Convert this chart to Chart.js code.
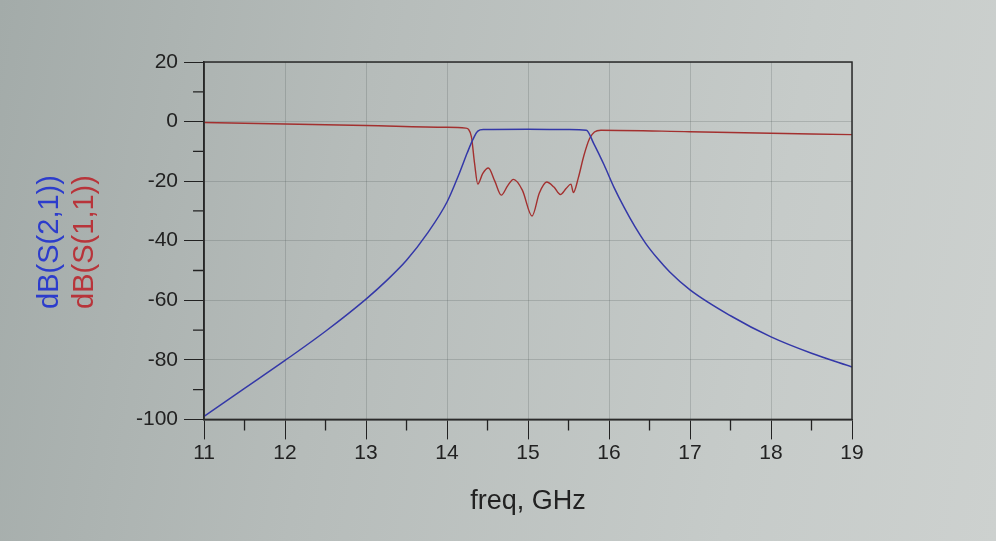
<!DOCTYPE html>
<html>
<head>
<meta charset="utf-8">
<script src="https://cdn.jsdelivr.net/npm/chart.js@4.4.1/dist/chart.umd.min.js"></script>
<style>
  html, body { margin: 0; padding: 0; }
  body {
    width: 996px; height: 541px; overflow: hidden;
    background: linear-gradient(100deg, #a3aba9 0%, #b6bcba 35%, #c6cbc9 75%, #cdd1cf 100%);
  }
  canvas { display: block; }
</style>
</head>
<body>
<canvas id="sparChart" width="996" height="541"></canvas>
<script>
// S21 (blue) - frequency in GHz, magnitude in dB
var freqS21 = [11, 11.5, 12, 12.5, 13, 13.25, 13.5, 13.75, 14.0, 14.15, 14.25, 14.32, 14.38, 14.45, 15.0, 15.5, 15.72,
               15.81, 15.94, 16.06, 16.19, 16.32, 16.45, 16.6, 16.75, 17, 17.5, 18, 18.5, 19];
var s21 = [-99, -89.6, -80.2, -70.4, -59.6, -53.5, -46.6, -37.8, -27, -17.5, -10.5, -6, -3.2, -2.7, -2.6, -2.7, -2.9,
           -7.3, -14.6, -22, -29, -35.3, -40.8, -46, -50.5, -56.5, -65.2, -72.3, -77.8, -82.4];

// S11 (red)
var freqS11 = [11, 12, 13, 14, 14.23, 14.3, 14.34, 14.38, 14.44, 14.51, 14.59, 14.67, 14.75, 14.82, 14.93, 15.05, 15.14,
               15.23, 15.32, 15.4, 15.47, 15.53, 15.56, 15.62, 15.69, 15.76, 15.82, 15.9, 17, 18, 19];
var s11 = [-0.3, -0.8, -1.3, -1.9, -2.2, -5, -14, -21, -17.5, -15.6, -20, -24.7, -21.5, -19.4, -23, -31.7, -24,
           -20.3, -22, -24.5, -22.5, -21, -23.8, -19, -11.4, -5.7, -3.5, -2.9, -3.4, -3.9, -4.4];

var xTicks = [11, 12, 13, 14, 15, 16, 17, 18, 19];
var yTicks = [20, 0, -20, -40, -60, -80, -100];

var seriesLabels = ['dB(S(2,1))', 'dB(S(1,1))'];
var seriesColors = ['#3438a8', '#a3302f'];
var titleColors = ['#2c3ccc', '#b8343a'];

function toPoints(xs, ys) {
  return xs.map(function (x, i) { return { x: x, y: ys[i] }; });
}

var fontFamily = '"Liberation Sans", Arial, sans-serif';

// minor ticks, frame and the two-coloured y title
var framePlugin = {
  id: 'framePlugin',
  afterDraw: function (chart) {
    var ctx = chart.ctx;
    var area = chart.chartArea;
    var xs = chart.scales.x;
    var ys = chart.scales.y;
    ctx.save();
    ctx.strokeStyle = '#222';
    ctx.lineWidth = 1.3;
    ctx.beginPath();
    for (var f = 11.5; f < 19; f += 1) {
      var px = xs.getPixelForValue(f);
      ctx.moveTo(px, area.bottom);
      ctx.lineTo(px, area.bottom + 11);
    }
    for (var v = 10; v > -100; v -= 20) {
      var py = ys.getPixelForValue(v);
      ctx.moveTo(area.left, py);
      ctx.lineTo(area.left - 11, py);
    }
    ctx.stroke();
    ctx.strokeStyle = '#2a2a2a';
    ctx.lineWidth = 1.5;
    ctx.strokeRect(area.left, area.top, area.right - area.left, area.bottom - area.top);

    ctx.font = '29px ' + fontFamily;
    ctx.textAlign = 'center';
    ctx.textBaseline = 'middle';
    var cy = 242;
    [50, 85].forEach(function (cx, i) {
      ctx.save();
      ctx.translate(cx, cy);
      ctx.rotate(-Math.PI / 2);
      ctx.fillStyle = titleColors[i];
      ctx.fillText(seriesLabels[i], 0, 0);
      ctx.restore();
    });
    ctx.restore();
  }
};

var ctx = document.getElementById('sparChart').getContext('2d');

var sparChart = new Chart(ctx, {
  type: 'line',
  data: {
    datasets: [
      { label: seriesLabels[0], data: toPoints(freqS21, s21), borderColor: seriesColors[0], borderWidth: 1.5,
        pointRadius: 0, cubicInterpolationMode: 'monotone', fill: false },
      { label: seriesLabels[1], data: toPoints(freqS11, s11), borderColor: seriesColors[1], borderWidth: 1.4,
        pointRadius: 0, cubicInterpolationMode: 'monotone', fill: false }
    ]
  },
  options: {
    responsive: false,
    animation: false,
    layout: { padding: { left: 130, right: 144, top: 62, bottom: 23 } },
    plugins: {
      legend: { display: false },
      tooltip: { enabled: false }
    },
    scales: {
      x: {
        type: 'linear',
        min: 11,
        max: 19,
        afterBuildTicks: function (axis) { axis.ticks = xTicks.map(function (v) { return { value: v }; }); },
        ticks: { color: '#222', font: { size: 21, family: fontFamily }, padding: 1, maxRotation: 0 },
        grid: { color: 'rgba(60,70,70,0.2)', tickColor: '#222', tickLength: 20, lineWidth: 1 },
        border: { color: '#222', width: 1.5 },
        title: { display: true, text: 'freq, GHz', color: '#222', font: { size: 27, family: fontFamily },
                 padding: { top: 19, bottom: 0 } }
      },
      y: {
        min: -100,
        max: 20,
        afterBuildTicks: function (axis) { axis.ticks = yTicks.map(function (v) { return { value: v }; }); },
        ticks: { color: '#222', font: { size: 21, family: fontFamily }, padding: 6 },
        grid: { color: 'rgba(60,70,70,0.2)', tickColor: '#222', tickLength: 20, lineWidth: 1 },
        border: { color: '#222', width: 1.5 }
      }
    }
  },
  plugins: [framePlugin]
});
</script>
</body>
</html>
